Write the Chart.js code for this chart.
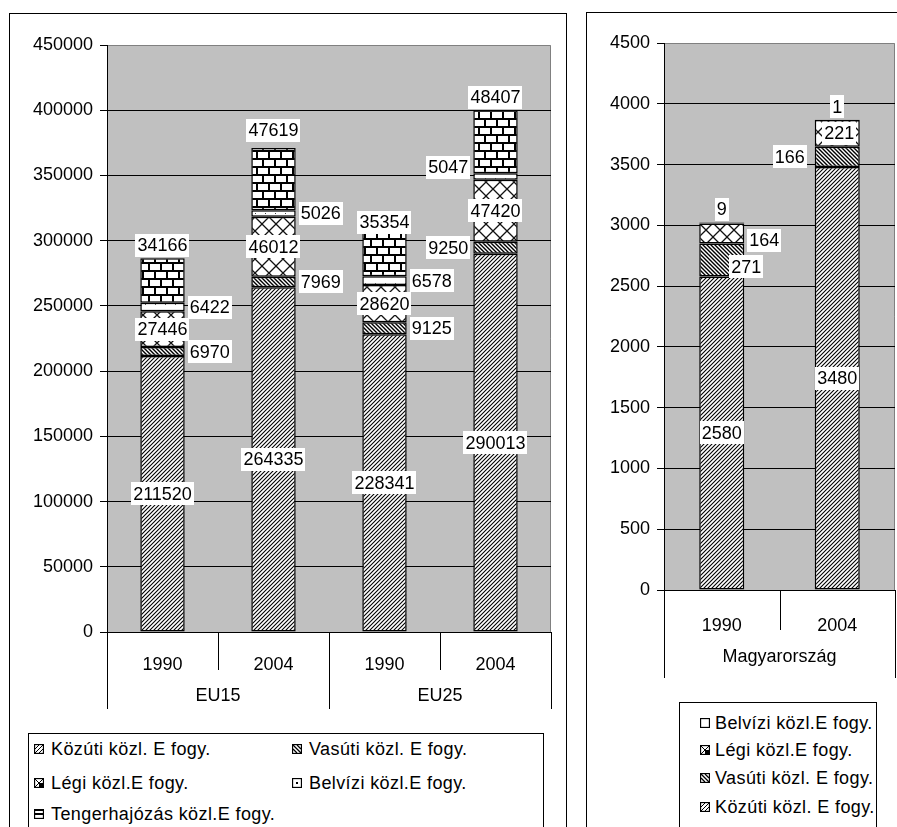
<!DOCTYPE html>
<html><head><meta charset="utf-8">
<script src="https://cdn.jsdelivr.net/npm/chart.js@4.4.1/dist/chart.umd.min.js"></script>
<style>
body{margin:0;background:#fff;width:897px;height:827px;overflow:hidden;position:relative;font-family:"Liberation Sans",Arial,sans-serif;}
.frame{position:absolute;border:1px solid #000;box-sizing:border-box;}
canvas.chart{position:absolute;}
.legend{position:absolute;border:1px solid #000;box-sizing:border-box;background:#fff;}
.item{position:absolute;white-space:nowrap;font-size:18px;letter-spacing:0.4px;color:#000;}
.item canvas{position:absolute;}
.item span{position:absolute;top:-11px;line-height:22px;}
</style></head><body>
<div class="frame" style="left:9px;top:13px;width:558px;height:840px"></div>
<div class="frame" style="left:586px;top:12px;width:330px;height:840px"></div>
<canvas id="c1" class="chart" width="556" height="705" style="left:10px;top:14px;width:556px;height:705px"></canvas>
<canvas id="c2" class="chart" width="310" height="680" style="left:587px;top:13px;width:310px;height:680px"></canvas>
<div class="legend" id="leg1" style="left:28px;top:733px;width:516px;height:120px"></div>
<div class="legend" id="leg2" style="left:679px;top:702px;width:198px;height:150px"></div>
<script>
// ---------- DATA ----------
const euCategories = ['1990', '2004', '1990', '2004'];
const euGroups = ['EU15', 'EU25'];
const seriesNames = ['Közúti közl. E fogy.', 'Vasúti közl. E fogy.', 'Légi közl.E fogy.', 'Belvízi közl.E fogy.', 'Tengerhajózás közl.E fogy.'];
const euKozuti = [211520, 264335, 228341, 290013];
const euVasuti = [6970, 7969, 9125, 9250];
const euLegi = [27446, 46012, 28620, 47420];
const euBelvizi = [6422, 5026, 6578, 5047];
const euTenger = [34166, 47619, 35354, 48407];
const euYMax = 450000, euYStep = 50000;

const huCategories = ['1990', '2004'];
const huGroups = ['Magyarország'];
const huKozuti = [2580, 3480];
const huVasuti = [271, 166];
const huLegi = [164, 221];
const huBelvizi = [9, 1];
const huYMax = 4500, huYStep = 500;

// ---------- label placement (layout, not data) ----------
const euPlacement = [
  [{p:'c'},{p:'c'},{p:'c'},{p:'c'}],
  [{p:'r'},{p:'r'},{p:'r'},{p:'l'}],
  [{p:'c'},{p:'c'},{p:'c'},{p:'c'}],
  [{p:'r'},{p:'r'},{p:'r'},{p:'l',dy:-9}],
  [{p:'t'},{p:'t',dy:-5},{p:'t',dy:5},{p:'t'}]
];
const huPlacement = [
  [{p:'c'},{p:'c'}],
  [{p:'e',dx:2,dy:7},{p:'l',dx:-5}],
  [{p:'r',dy:7},{p:'c',dx:2}],
  [{p:'t'},{p:'t'}]
];

// ---------- patterns ----------
function tile(w,h,draw){
  const c=document.createElement('canvas');c.width=w;c.height=h;
  const g=c.getContext('2d');g.fillStyle='#fff';g.fillRect(0,0,w,h);
  g.strokeStyle='#000';g.fillStyle='#000';draw(g,w,h);
  return c;
}
function pat(c){return c.getContext('2d').createPattern(c,'repeat');}
const roadTile = tile(4,4,(g,s)=>{g.lineWidth=1.1;g.strokeStyle='#000';g.beginPath();
  g.moveTo(-1,s+1);g.lineTo(s+1,-1);g.moveTo(-1,1);g.lineTo(1,-1);g.moveTo(s-1,s+1);g.lineTo(s+1,s-1);g.stroke();});
const railTile = tile(4,4,(g,s)=>{g.lineWidth=1.4;g.strokeStyle='#000';g.beginPath();
  g.moveTo(-1,-1);g.lineTo(s+1,s+1);g.moveTo(s-1,-1);g.lineTo(s+1,1);g.moveTo(-1,s-1);g.lineTo(1,s+1);g.stroke();});
const airTile = tile(14,14,(g,s)=>{g.lineWidth=1.3;g.strokeStyle='#111';g.beginPath();
  g.moveTo(0,0);g.lineTo(s,s);g.moveTo(s,0);g.lineTo(0,s);g.stroke();});
const inlandTile = tile(10,7,(g)=>{g.fillStyle='#444';g.fillRect(5,3,1,1);});
const plainTile = tile(4,4,()=>{});
const seaTile = tile(12,16,(g)=>{g.fillRect(0,0,12,2);g.fillRect(0,8,12,2);g.fillRect(0,2,2,6);g.fillRect(6,10,2,6);});

// ---------- plugins ----------
const FONT = '18px "Liberation Sans", Arial, sans-serif';
const bgPlugin = {id:'plotBg', beforeDraw(chart){
  const a=chart.chartArea, ctx=chart.ctx; ctx.save();
  ctx.fillStyle='#c0c0c0'; ctx.fillRect(a.left,a.top,a.right-a.left,a.bottom-a.top);
  ctx.strokeStyle='#808080'; ctx.lineWidth=1; ctx.beginPath();
  ctx.moveTo(a.left,a.top+0.5); ctx.lineTo(a.right-0.5,a.top+0.5); ctx.lineTo(a.right-0.5,a.bottom); ctx.stroke();
  ctx.restore();
}};
function sepPlugin(groups, groupSize, yearLen, groupLen, groupLabelDy){
  return {id:'seps', afterDraw(chart){
    const xs=chart.scales.x, ctx=chart.ctx, n=xs.ticks.length, w=(xs.right-xs.left)/n, b=chart.chartArea.bottom;
    ctx.save(); ctx.strokeStyle='#000'; ctx.lineWidth=1;
    for(let i=0;i<=n;i++){
      const x=Math.round(xs.left+i*w)+0.5, len=(i%groupSize===0)?groupLen:yearLen;
      ctx.beginPath(); ctx.moveTo(x,b); ctx.lineTo(x,b+len); ctx.stroke();
    }
    ctx.fillStyle='#000'; ctx.font=FONT; ctx.textAlign='center'; ctx.textBaseline='middle';
    groups.forEach((gname,k)=>{
      const x=xs.left+(k+0.5)*groupSize*w; ctx.fillText(gname,x,b+groupLabelDy);
    });
    ctx.restore();
  }};
}
function labelPlugin(placement){
  return {id:'segLabels', afterDatasetsDraw(chart){
    const ctx=chart.ctx; ctx.save(); ctx.font=FONT; ctx.textBaseline='middle'; ctx.textAlign='center';
    chart.data.datasets.forEach((ds,i)=>{
      const meta=chart.getDatasetMeta(i);
      meta.data.forEach((el,j)=>{
        const spec=placement[i][j], txt=String(ds.data[j]);
        const p=el.getProps(['x','y','base','width'],true);
        const tw=ctx.measureText(txt).width, half=p.width/2;
        let cx=p.x, cy=(p.y+p.base)/2;
        if(spec.p==='r') cx=p.x+half+5+tw/2;
        else if(spec.p==='l') cx=p.x-half-5-tw/2;
        else if(spec.p==='e') cx=p.x+half;
        else if(spec.p==='t') cy=p.y-13;
        cx+=spec.dx||0; cy+=spec.dy||0;
        ctx.fillStyle='#fff'; ctx.fillRect(Math.round(cx-tw/2-2),Math.round(cy-11.5),Math.round(tw+4),23);
        ctx.fillStyle='#000'; ctx.fillText(txt,cx,cy+1);
      });
    });
    ctx.restore();
  }};
}

function makeChart(canvas, cats, seriesData, fills, yMax, yStep, yWidth, xHeight, pad, barPct, xPad, plugins){
  const datasets = seriesData.map((d,i)=>({
    label: seriesNames[i], data: d, backgroundColor: pat(fills[i]),
    borderColor:'#000', borderWidth:1.5, borderSkipped:false,
    barPercentage: barPct, categoryPercentage: 1
  }));
  return new Chart(canvas, {
    type:'bar',
    data:{labels:cats, datasets},
    options:{
      responsive:false, animation:false, devicePixelRatio:1,
      layout:{padding:pad},
      plugins:{legend:{display:false}, tooltip:{enabled:false}},
      scales:{
        x:{stacked:true, offset:true, grid:{display:false}, border:{color:'#000',width:1},
           ticks:{font:{family:'"Liberation Sans", Arial',size:18}, color:'#000', padding:xPad, maxRotation:0, autoSkip:false},
           afterFit:(s)=>{s.height=xHeight;}},
        y:{stacked:true, min:0, max:yMax,
           ticks:{stepSize:yStep, font:{family:'"Liberation Sans", Arial',size:18}, color:'#000', padding:7, callback:(v)=>String(v)},
           grid:{color:(c)=> (c.tick && c.tick.value===yMax) ? 'rgba(0,0,0,0)' : '#000', tickColor:'#000', tickLength:7, lineWidth:1},
           border:{color:'#000',width:1},
           afterFit:(s)=>{s.width=yWidth;}}
      }
    },
    plugins:[bgPlugin, ...plugins]
  });
}

makeChart(document.getElementById('c1'), euCategories,
  [euKozuti, euVasuti, euLegi, euBelvizi, euTenger],
  [roadTile, railTile, airTile, inlandTile, seaTile],
  euYMax, euYStep, 97, 87, {left:0,right:15,top:31,bottom:0}, 0.4, 14,
  [sepPlugin(euGroups,2,38,77,64), labelPlugin(euPlacement)]);

makeChart(document.getElementById('c2'), huCategories,
  [huKozuti, huVasuti, huLegi, huBelvizi],
  [roadTile, railTile, airTile, plainTile],
  huYMax, huYStep, 77, 103, {left:0,right:2,top:30,bottom:0}, 0.39, 17,
  [sepPlugin(huGroups,2,40,88,67), labelPlugin(huPlacement)]);

// ---------- legends ----------
function swatch(kind){
  const c=document.createElement('canvas'); c.width=10; c.height=10;
  const g=c.getContext('2d'); g.fillStyle='#fff'; g.fillRect(0,0,10,10);
  g.strokeStyle='#000'; g.fillStyle='#000'; g.lineWidth=1;
  if(kind==='road'){g.beginPath();g.moveTo(1,9);g.lineTo(9,1);g.moveTo(1,5);g.lineTo(5,1);g.moveTo(5,9);g.lineTo(9,5);g.stroke();}
  if(kind==='rail'){g.lineWidth=1.3;g.beginPath();g.moveTo(1,1);g.lineTo(9,9);g.moveTo(1,5);g.lineTo(5,9);g.moveTo(5,1);g.lineTo(9,5);g.stroke();}
  if(kind==='air'){g.beginPath();g.moveTo(1,9);g.lineTo(9,1);g.moveTo(1,1);g.lineTo(5,5);g.stroke();g.fillRect(5,5,4,4);}
  if(kind==='inland'){g.fillRect(4,4,2,2);}
  if(kind==='sea'){g.fillRect(0,4,10,2);g.fillRect(0,0,10,2);}
  g.lineWidth=1.3; g.strokeRect(0.5,0.5,9,9);
  return c;
}
function addItem(box, name, kind, sx, tx, cy){
  const d=document.createElement('div'); d.className='item'; d.style.left='0px'; d.style.top=cy+'px';
  const sw=swatch(kind); sw.style.left=sx+'px'; sw.style.top='-5px'; d.appendChild(sw);
  const s=document.createElement('span'); s.textContent=name; s.style.left=tx+'px'; d.appendChild(s);
  box.appendChild(d);
}
const kinds=['road','rail','air','inland','sea'];
const leg1=document.getElementById('leg1');
// positions relative to box (left 28, top 733)
const leg1Pos=[[5,22,15],[263,280,15],[5,22,49],[263,280,49],[5,22,80]];
seriesNames.forEach((n,i)=>addItem(leg1,n,kinds[i],leg1Pos[i][0],leg1Pos[i][1],leg1Pos[i][2]));
const leg2=document.getElementById('leg2');
const huOrder=[3,2,1,0];
const leg2Y=[20,47,75,104];
huOrder.forEach((si,k)=>addItem(leg2,seriesNames[si], si===3?'plain':kinds[si],20,35,leg2Y[k]));
</script>
</body></html>
